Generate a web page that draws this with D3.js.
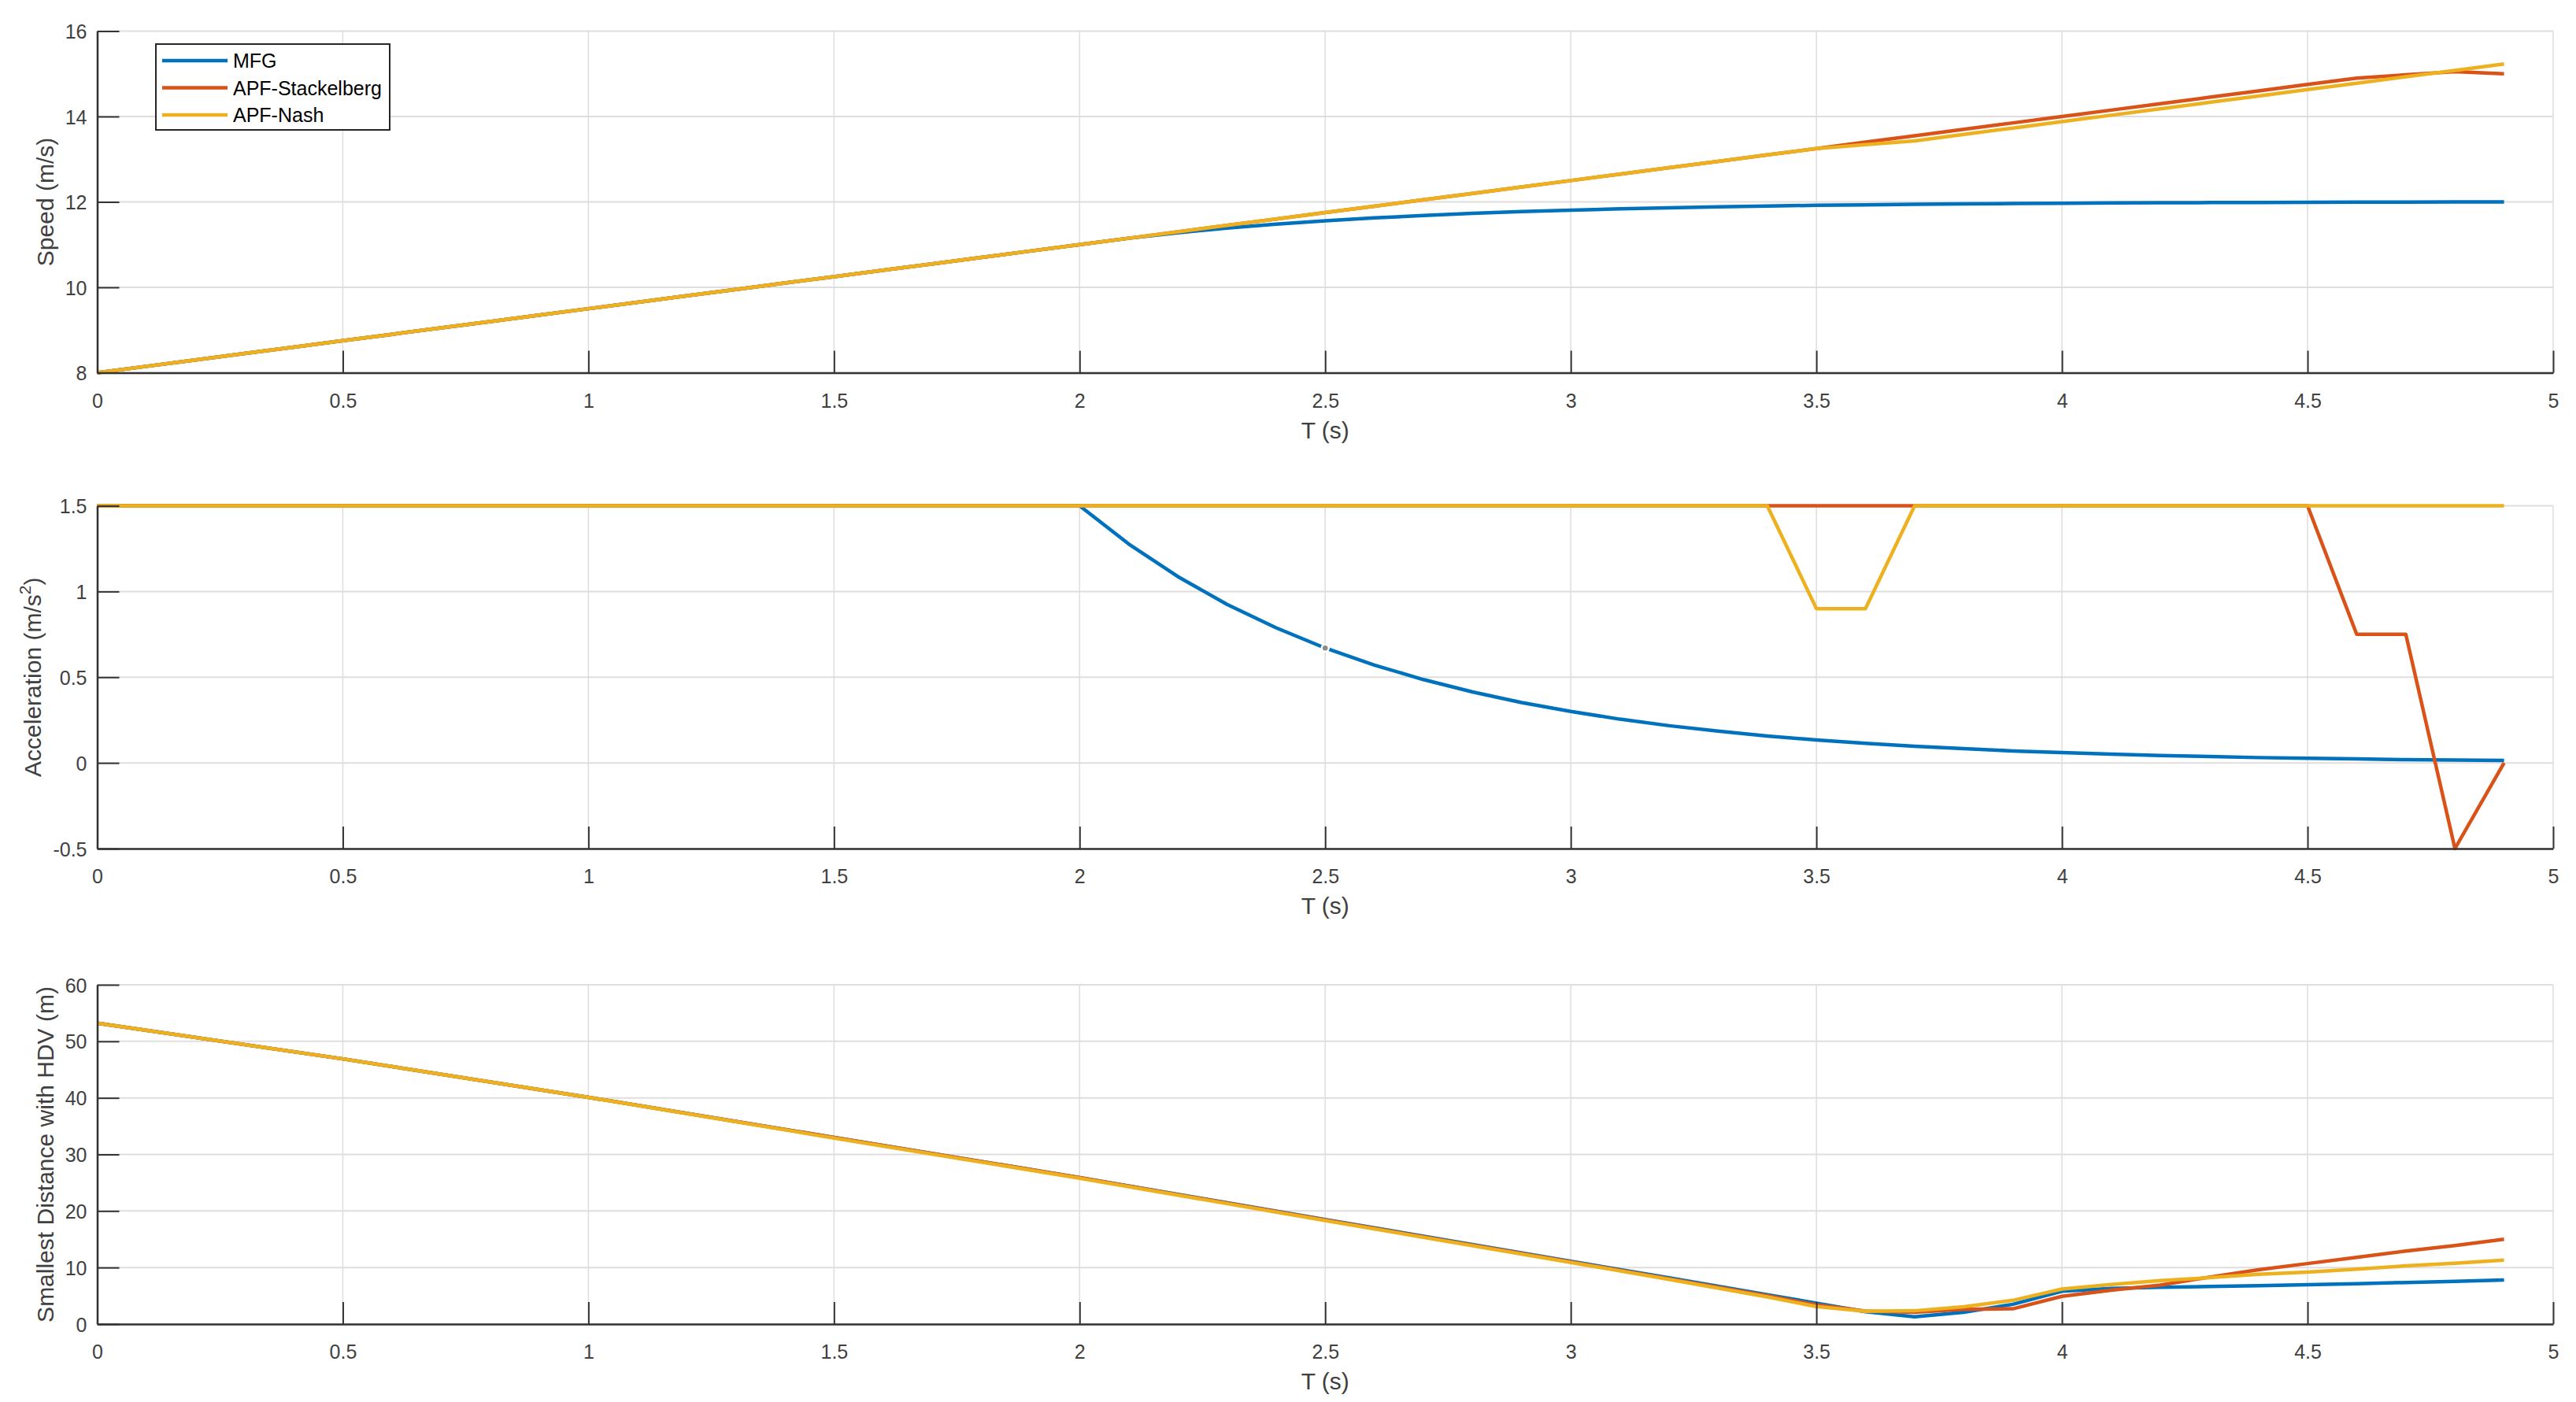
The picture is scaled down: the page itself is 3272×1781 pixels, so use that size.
<!DOCTYPE html>
<html>
<head>
<meta charset="utf-8">
<script src="https://cdn.jsdelivr.net/npm/d3@7/dist/d3.min.js"></script>
<style>
  html, body { margin: 0; padding: 0; background: #ffffff; }
  svg { display: block; }
  text { font-family: "Liberation Sans", Arial, Helvetica, sans-serif; }
</style>
</head>
<body>
<script>
// ---------------- DATA ----------------
const seriesNames = ["MFG", "APF-Stackelberg", "APF-Nash"];
const seriesColors = ["#0072BD", "#D95319", "#EDB120"];

const time = [0.0,0.1,0.2,0.3,0.4,0.5,0.6,0.7,0.8,0.9,
              1.0,1.1,1.2,1.3,1.4,1.5,1.6,1.7,1.8,1.9,
              2.0,2.1,2.2,2.3,2.4,2.5,2.6,2.7,2.8,2.9,
              3.0,3.1,3.2,3.3,3.4,3.5,3.6,3.7,3.8,3.9,
              4.0,4.1,4.2,4.3,4.4,4.5,4.6,4.7,4.8,4.9];

const speedMFG = [8,8.15,8.3,8.45,8.6,8.75,8.9,9.05,9.2,9.35,
                  9.5,9.65,9.8,9.95,10.1,10.25,10.4,10.55,10.7,10.85,
                  11.0,11.15,11.278,11.387,11.479,11.558,11.625,11.682,11.731,11.772,
                  11.807,11.837,11.863,11.885,11.904,11.92,11.933,11.944,11.954,11.962,
                  11.969,11.975,11.98,11.984,11.988,11.991,11.994,11.996,11.998,12.0];
const speedStackelberg = [8,8.15,8.3,8.45,8.6,8.75,8.9,9.05,9.2,9.35,
                  9.5,9.65,9.8,9.95,10.1,10.25,10.4,10.55,10.7,10.85,
                  11.0,11.15,11.3,11.45,11.6,11.75,11.9,12.05,12.2,12.35,
                  12.5,12.65,12.8,12.95,13.1,13.25,13.4,13.55,13.7,13.85,
                  14.0,14.15,14.3,14.45,14.6,14.75,14.9,14.975,15.05,15.0];
const speedNash = [8,8.15,8.3,8.45,8.6,8.75,8.9,9.05,9.2,9.35,
                  9.5,9.65,9.8,9.95,10.1,10.25,10.4,10.55,10.7,10.85,
                  11.0,11.15,11.3,11.45,11.6,11.75,11.9,12.05,12.2,12.35,
                  12.5,12.65,12.8,12.95,13.1,13.25,13.34,13.43,13.58,13.73,
                  13.88,14.03,14.18,14.33,14.48,14.63,14.78,14.93,15.08,15.23];

const accMFG = [1.5,1.5,1.5,1.5,1.5,1.5,1.5,1.5,1.5,1.5,
                1.5,1.5,1.5,1.5,1.5,1.5,1.5,1.5,1.5,1.5,
                1.5,1.277,1.087,0.925,0.788,0.67,0.571,0.486,0.414,0.352,
                0.30,0.255,0.217,0.185,0.157,0.134,0.114,0.097,0.083,0.07,
                0.06,0.051,0.043,0.037,0.031,0.027,0.023,0.019,0.017,0.014];
const accStackelberg = [1.5,1.5,1.5,1.5,1.5,1.5,1.5,1.5,1.5,1.5,
                1.5,1.5,1.5,1.5,1.5,1.5,1.5,1.5,1.5,1.5,
                1.5,1.5,1.5,1.5,1.5,1.5,1.5,1.5,1.5,1.5,
                1.5,1.5,1.5,1.5,1.5,1.5,1.5,1.5,1.5,1.5,
                1.5,1.5,1.5,1.5,1.5,1.5,0.75,0.75,-0.5,0.0];
const accNash = [1.5,1.5,1.5,1.5,1.5,1.5,1.5,1.5,1.5,1.5,
                1.5,1.5,1.5,1.5,1.5,1.5,1.5,1.5,1.5,1.5,
                1.5,1.5,1.5,1.5,1.5,1.5,1.5,1.5,1.5,1.5,
                1.5,1.5,1.5,1.5,1.5,0.9,0.9,1.5,1.5,1.5,
                1.5,1.5,1.5,1.5,1.5,1.5,1.5,1.5,1.5,1.5];

// data tip shown on the MFG acceleration curve
const dataTip = {t: 2.5, value: 0.67};

const distTime = [0,0.5,1,1.5,2,2.5,3,3.2,3.4,3.5,3.6,3.7,3.8,3.9,
                  4.0,4.1,4.2,4.3,4.4,4.5,4.6,4.7,4.8,4.9];
const distMFG = [53.2,46.9,40.1,33.0,25.9,18.5,11.1,8.2,5.2,3.7,2.2,1.3,2.1,3.5,
                 5.8,6.3,6.5,6.65,6.8,6.95,7.15,7.35,7.55,7.8];
const distStackelberg = [53.2,46.9,40.1,33.0,25.9,18.4,11.0,8.0,5.0,3.4,2.3,2.1,2.6,2.7,
                 4.9,6.0,6.9,8.3,9.6,10.7,11.8,12.9,13.9,15.0];
const distNash = [53.2,46.9,40.1,32.9,25.8,18.3,10.9,7.9,4.8,3.1,2.25,2.35,3.05,4.2,
                 6.2,7.0,7.7,8.2,8.8,9.2,9.7,10.3,10.75,11.3];

const xTicks = [0,0.5,1,1.5,2,2.5,3,3.5,4,4.5,5];
const speedTicks = [8,10,12,14,16];
const accTicks = [-0.5,0,0.5,1,1.5];
const distTicks = [0,10,20,30,40,50,60];

// ---------------- LAYOUT ----------------
const W = 3272, H = 1781;
const xLeft = 123.5, xRight = 3243;
const textColor = "#404040";
const axisColor = "#333333";
const gridColor = "#dedede";

const svg = d3.select("body").append("svg")
  .attr("width", W).attr("height", H);
svg.append("rect").attr("width", W).attr("height", H).attr("fill", "#fff");

const x = d3.scaleLinear().domain([0, 5]).range([xLeft, xRight]);

const panels = [
  {top: 39.5, bottom: 473.5, domain: [8, 16], ticks: speedTicks,
   tx: time, series: [speedMFG, speedStackelberg, speedNash],
   ylabel: "Speed (m/s)", ylabelX: 68, legend: true},
  {top: 642.5, bottom: 1078, domain: [-0.5, 1.5], ticks: accTicks,
   tx: time, series: [accMFG, accStackelberg, accNash],
   ylabel: "acc", ylabelX: 52, tip: true},
  {top: 1251, bottom: 1682, domain: [0, 60], ticks: distTicks,
   tx: distTime, series: [distMFG, distStackelberg, distNash],
   ylabel: "Smallest Distance with HDV (m)", ylabelX: 68}
];

panels.forEach(p => {
  const y = d3.scaleLinear().domain(p.domain).range([p.bottom, p.top]);
  const g = svg.append("g");

  // grid
  g.append("g").selectAll("line").data(p.ticks).join("line")
    .attr("x1", xLeft).attr("x2", xRight)
    .attr("y1", d => y(d)).attr("y2", d => y(d))
    .attr("stroke", gridColor).attr("stroke-width", 2);
  g.append("g").selectAll("line").data(xTicks).join("line")
    .attr("x1", d => x(d)).attr("x2", d => x(d))
    .attr("y1", p.top).attr("y2", p.bottom)
    .attr("stroke", gridColor).attr("stroke-width", 1.5);

  // data lines
  const clipId = "clip" + Math.round(p.top);
  svg.append("clipPath").attr("id", clipId).append("rect")
    .attr("x", xLeft - 4).attr("y", p.top - 4)
    .attr("width", xRight - xLeft + 8).attr("height", p.bottom - p.top + 8);
  const lg = g.append("g").attr("clip-path", `url(#${clipId})`);
  p.series.forEach((vals, i) => {
    const line = d3.line().x((d, k) => x(p.tx[k])).y(d => y(d));
    lg.append("path").datum(vals)
      .attr("d", line)
      .attr("fill", "none")
      .attr("stroke", seriesColors[i])
      .attr("stroke-width", 4.5)
      .attr("stroke-linejoin", "round");
  });

  if (p.tip) {
    g.append("circle")
      .attr("cx", x(dataTip.t)).attr("cy", y(dataTip.value))
      .attr("r", 4.5).attr("fill", "#8a8a8a")
      .attr("stroke", "#ffffff").attr("stroke-width", 2.5);
  }

  // axes
  const xAxis = d3.axisBottom(x).tickValues(xTicks).tickFormat(d => String(d))
    .tickSizeInner(-28).tickSizeOuter(0).tickPadding(26);
  const xg = g.append("g").attr("transform", `translate(0,${p.bottom})`).call(xAxis);
  const yAxis = d3.axisLeft(y).tickValues(p.ticks).tickFormat(d => String(d))
    .tickSizeInner(-28).tickSizeOuter(0).tickPadding(13);
  const yg = g.append("g").attr("transform", `translate(${xLeft},0)`).call(yAxis);
  [xg, yg].forEach(a => {
    a.select(".domain").attr("stroke", axisColor).attr("stroke-width", 2.5);
    a.selectAll(".tick line").attr("stroke", axisColor).attr("stroke-width", 2);
    a.selectAll(".tick text").attr("fill", textColor)
      .style("font-size", "25px");
  });
  xg.selectAll(".tick text").attr("dy", "0.72em");
  yg.selectAll(".tick text").attr("dy", "0.36em");

  // x label
  g.append("text")
    .attr("x", (xLeft + xRight) / 2).attr("y", p.bottom + 83)
    .attr("text-anchor", "middle").attr("fill", textColor)
    .style("font-size", "30px").text("T (s)");

  // y label
  const cy = (p.top + p.bottom) / 2;
  const yl = g.append("text")
    .attr("transform", `translate(${p.ylabelX},${cy}) rotate(-90)`)
    .attr("text-anchor", "middle").attr("fill", textColor)
    .style("font-size", "30px");
  if (p.ylabel === "acc") {
    yl.append("tspan").text("Acceleration (m/s");
    yl.append("tspan").attr("dy", -13).style("font-size", "21px").text("2");
    yl.append("tspan").attr("dy", 13).text(")");
  } else {
    yl.text(p.ylabel);
  }

  // legend
  if (p.legend) {
    const lgd = g.append("g");
    lgd.append("rect").attr("x", 198).attr("y", 56).attr("width", 297).attr("height", 109)
      .attr("fill", "#fff").attr("stroke", "#262626").attr("stroke-width", 2);
    const rowsY = [77, 111.5, 146];
    seriesNames.forEach((name, i) => {
      lgd.append("line").attr("x1", 206).attr("x2", 289)
        .attr("y1", rowsY[i]).attr("y2", rowsY[i])
        .attr("stroke", seriesColors[i]).attr("stroke-width", 4.5);
      lgd.append("text").attr("x", 296).attr("y", rowsY[i]).attr("dy", "0.36em")
        .attr("fill", "#000").style("font-size", "25px").text(name);
    });
  }
});
</script>
</body>
</html>
